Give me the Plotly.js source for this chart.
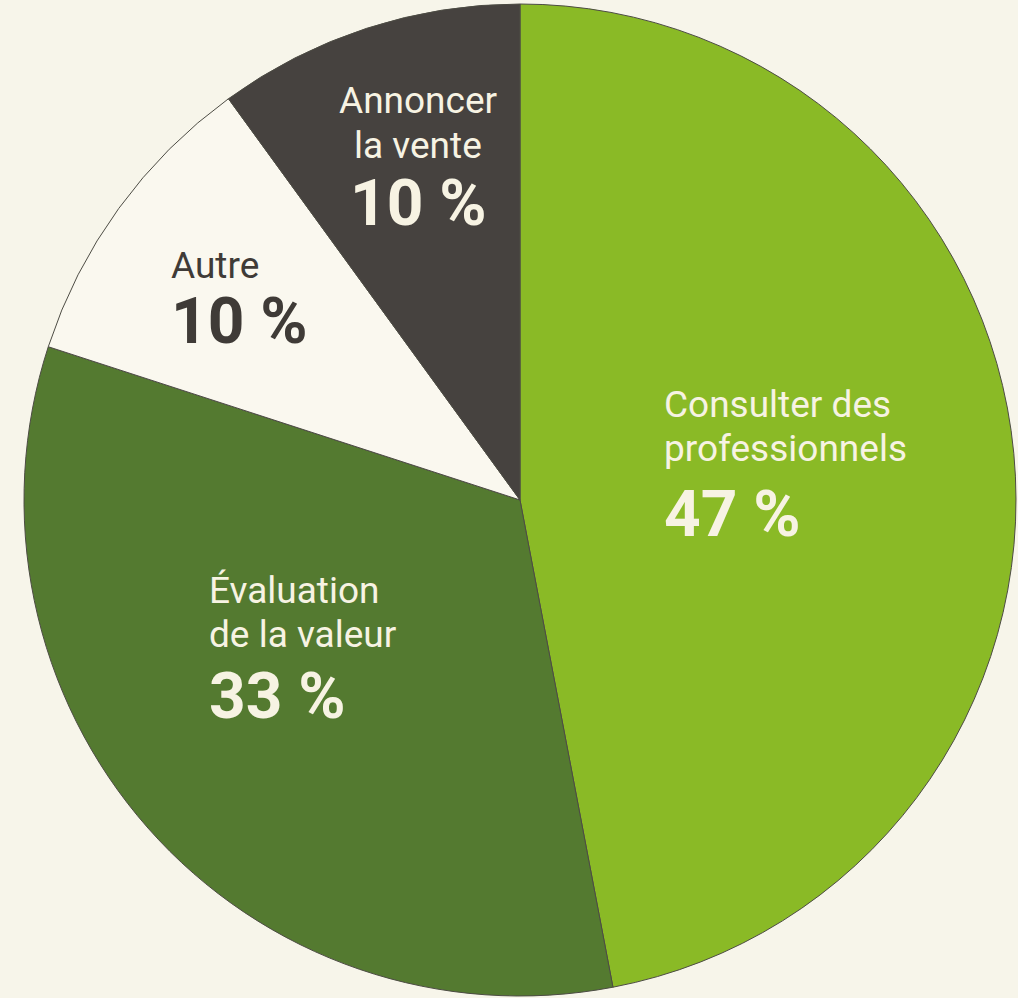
<!DOCTYPE html>
<html>
<head>
<meta charset="utf-8">
<script src="https://cdn.plot.ly/plotly-3.0.1.min.js"></script>
<style>
  html, body { margin: 0; padding: 0; background: #f7f5ea; }
  #chart { width: 1018px; height: 998px; }
</style>
</head>
<body>
<div id="chart"></div>
<script>
// ---- Data ----
const categories = ["Consulter des professionnels", "Évaluation de la valeur", "Autre", "Annoncer la vente"];
const labelLines = [["Consulter des", "professionnels"], ["Évaluation", "de la valeur"], ["Autre"], ["Annoncer", "la vente"]];
const values = [47, 33, 10, 10];
const sliceColors = ["#8aba26", "#547a30", "#faf8ef", "#46423f"];
const textColors = ["#f7f3e3", "#f7f3e3", "#3f3b37", "#f7f3e3"];

// ---- Layout helpers (pixel -> paper) ----
const W = 1018, H = 998;
const M = { l: 24, r: 2, t: 4, b: 2 };
const PW = W - M.l - M.r, PH = H - M.t - M.b;
const px = x => (x - M.l) / PW;
const py = y => 1 - (y - M.t) / PH;

const LABEL_SIZE = 37, PCT_SIZE = 64;
// label placement (x, top y of first label line, line step, top y of percent, anchor)
const placements = [
  { x: 663, yLabel: 382, step: 43.5, yPct: 476, anchor: "left" },
  { x: 208, yLabel: 568, step: 43.5, yPct: 658, anchor: "left" },
  { x: 170, yLabel: 243, step: 43.5, yPct: 283, anchor: "left" },
  { x: 418, yLabel: 78,  step: 45,   yPct: 165, anchor: "center" }
];

const annotations = [];
labelLines.forEach((lines, i) => {
  const p = placements[i];
  lines.forEach((ln, j) => {
    annotations.push({
      xref: "paper", yref: "paper", x: px(p.x), y: py(p.yLabel + j * p.step),
      xanchor: p.anchor, yanchor: "top", align: p.anchor,
      text: ln, showarrow: false, borderpad: 0,
      font: { family: "Roboto, sans-serif", size: LABEL_SIZE, color: textColors[i] }
    });
  });
  annotations.push({
    xref: "paper", yref: "paper", x: px(p.x), y: py(p.yPct),
    xanchor: p.anchor, yanchor: "top", align: p.anchor,
    text: "<b>" + values[i] + " %</b>", showarrow: false, borderpad: 0,
    font: { family: "Roboto, sans-serif", size: PCT_SIZE, color: textColors[i] }
  });
});

const trace = {
  type: "pie",
  labels: categories,
  values: values,
  sort: false,
  direction: "clockwise",
  rotation: 0,
  textinfo: "none",
  hoverinfo: "skip",
  marker: { colors: sliceColors, line: { color: "#4d4c44", width: 1 } },
  domain: { x: [0, 1], y: [0, 1] }
};

const layout = {
  width: W, height: H,
  margin: M,
  paper_bgcolor: "#f7f5ea",
  plot_bgcolor: "#f7f5ea",
  showlegend: false,
  annotations: annotations
};

Plotly.newPlot("chart", [trace], layout, { displayModeBar: false, staticPlot: true });
</script>
</body>
</html>
